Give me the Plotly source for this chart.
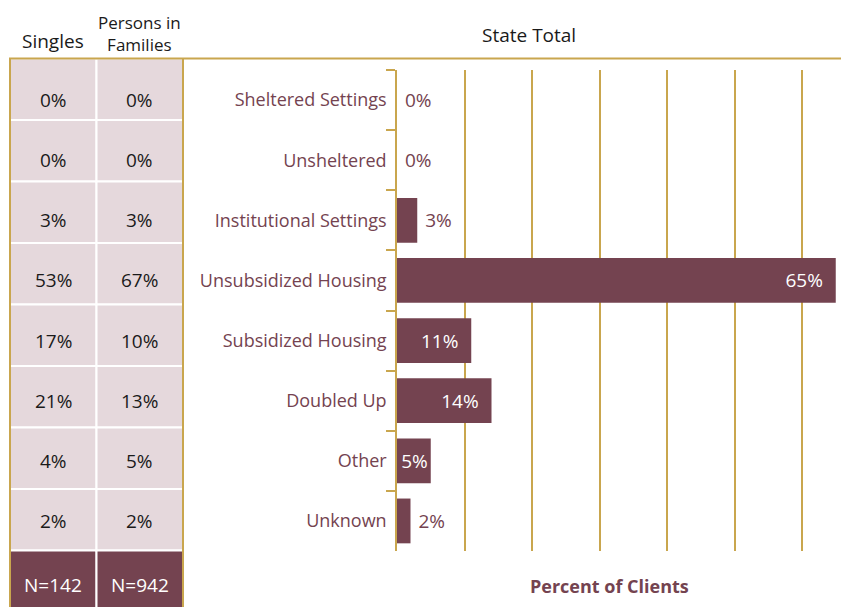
import plotly.graph_objects as go

categories = ["Sheltered Settings", "Unsheltered", "Institutional Settings",
              "Unsubsidized Housing", "Subsidized Housing", "Doubled Up",
              "Other", "Unknown"]
state_total = [0, 0, 3, 65, 11, 14, 5, 2]
singles = [0, 0, 3, 53, 17, 21, 4, 2]
families = [0, 0, 3, 67, 10, 13, 5, 2]
n_labels = ["N=142", "N=942"]
col_headers = ["Singles", "Persons in<br>Families"]
grid_ticks = [0, 10, 20, 30, 40, 50, 60]

# The page body has an 8px default margin, so the figure is drawn 8px in.
OFF = 8
W, H = 849 - OFF, 607 - OFF
MAROON = "#744350"
GOLD = "#c9a64e"
PINK = "#e5d8dc"
FONT = "Open Sans, Noto Sans, sans-serif"


def px(x):
    return (x - OFF) / W


def py(y):
    return 1 - (y - OFF) / H


texts, positions = [], []
for v in state_total:
    if v >= 5:
        positions.append("inside")
        texts.append(f"{v}%" + ("\u00a0\u00a0" if v >= 10 else ""))
    else:
        positions.append("outside")
        texts.append(f"\u00a0{v}%")

fig = go.Figure()
fig.add_trace(go.Bar(
    y=categories, x=state_total, orientation="h",
    marker=dict(color=MAROON, line=dict(width=0)),
    text=texts, textposition=positions,
    insidetextanchor="end",
    insidetextfont=dict(color="white", size=19, family=FONT),
    outsidetextfont=dict(color=MAROON, size=19, family=FONT),
    cliponaxis=False, hoverinfo="skip",
))

shapes = []
annotations = []
col_x = [10, 96.5, 183]
row_top = 58.5
row_h = 61.5
n_rows = len(categories)
for c, col_vals in enumerate([singles, families]):
    x0, x1 = col_x[c], col_x[c + 1]
    xc = px((x0 + x1) / 2)
    for r in range(n_rows):
        y0 = row_top + r * row_h
        shapes.append(dict(type="rect", xref="paper", yref="paper",
                           x0=px(x0), x1=px(x1), y0=py(y0), y1=py(y0 + row_h),
                           fillcolor=PINK, line=dict(color="white", width=2),
                           layer="below"))
        annotations.append(dict(text=f"{col_vals[r]}%", xref="paper", yref="y",
                                x=xc, y=categories[r],
                                showarrow=False, xanchor="center", yanchor="middle",
                                font=dict(size=19, color="#1a1a1a", family=FONT)))
    y0 = row_top + n_rows * row_h
    shapes.append(dict(type="rect", xref="paper", yref="paper",
                       x0=px(x0), x1=px(x1), y0=py(y0), y1=py(620),
                       fillcolor=MAROON, line=dict(color="white", width=2),
                       layer="below"))
    annotations.append(dict(text=n_labels[c], xref="paper", yref="paper",
                            x=xc, y=py(585),
                            showarrow=False, xanchor="center", yanchor="middle",
                            font=dict(size=19, color="white", family=FONT)))
    two_line = "<br>" in col_headers[c]
    annotations.append(dict(text=col_headers[c], xref="paper", yref="paper",
                            x=xc, y=py(57 if two_line else 55), borderpad=0,
                            showarrow=False, xanchor="center", yanchor="bottom",
                            font=dict(size=17 if two_line else 19,
                                      color="#1a1a1a", family=FONT)))

# gold borders
for xb in (col_x[0], col_x[-1]):
    shapes.append(dict(type="line", xref="paper", yref="paper",
                       x0=px(xb), x1=px(xb), y0=py(row_top), y1=py(620),
                       line=dict(color=GOLD, width=2)))
shapes.append(dict(type="line", xref="paper", yref="paper",
                   x0=px(col_x[0] - 1), x1=1, y0=py(row_top), y1=py(row_top),
                   line=dict(color=GOLD, width=2)))

annotations.append(dict(text="State Total", xref="paper", yref="paper",
                        x=px(529), y=py(35), showarrow=False,
                        xanchor="center", yanchor="middle",
                        font=dict(size=19, color="#1a1a1a", family=FONT)))
annotations.append(dict(text="<b>Percent of Clients</b>", xref="paper", yref="paper",
                        x=px(609), y=py(586), showarrow=False,
                        xanchor="center", yanchor="middle",
                        font=dict(size=18, color=MAROON, family=FONT)))

fig.update_layout(
    width=W, height=H,
    margin=dict(l=0, r=0, t=0, b=0),
    paper_bgcolor="white", plot_bgcolor="white",
    showlegend=False, bargap=0.255,
    font=dict(family=FONT, size=18, color=MAROON),
    shapes=shapes, annotations=annotations,
    xaxis=dict(domain=[px(397), 1], range=[0, (849 - 397) / 6.75], tickvals=grid_ticks,
               showticklabels=False, showgrid=True, gridcolor=GOLD, gridwidth=1.5,
               zeroline=False, showline=False, ticks="", fixedrange=True),
    yaxis=dict(domain=[py(551), py(70)], categoryorder="array",
               categoryarray=categories, autorange="reversed",
               showline=True, linecolor=GOLD, linewidth=1.5,
               ticks="outside", tickson="boundaries", ticklen=9, tickcolor=GOLD,
               tickwidth=1.5, showgrid=False, zeroline=False,
               ticklabelstandoff=5,
               tickfont=dict(size=18, color=MAROON, family=FONT),
               automargin=False, fixedrange=True),
)

fig.write_html("out.html")
